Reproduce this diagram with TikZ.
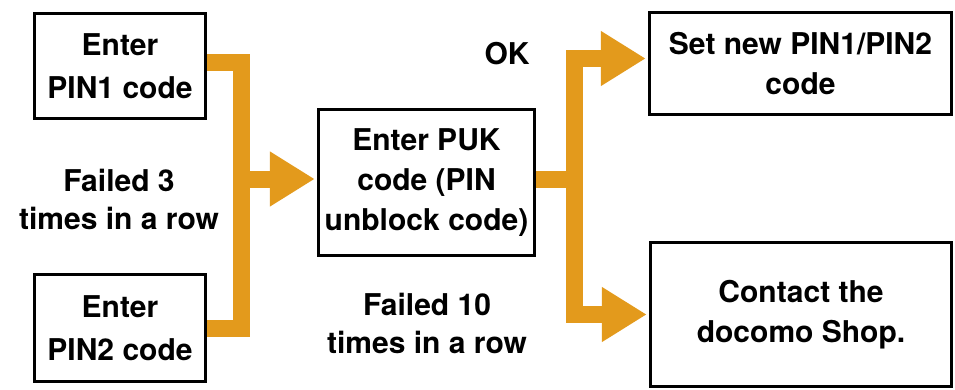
\documentclass[tikz,border=0pt]{standalone}
\usepackage{fontspec}
\setmainfont{TeX Gyre Heros}
\usepackage{tikz}
\usetikzlibrary{arrows.meta, positioning}
\usepackage{xcolor}
\definecolor{flowor}{RGB}{227,154,28}

\begin{document}
\begin{tikzpicture}[x=1pt, y=-1pt,
  box/.style={draw, line width=3.5pt, fill=white, align=center, inner sep=0pt,
    font=\bfseries\fontsize{30}{40}\selectfont},
  lbl/.style={align=center, font=\bfseries\fontsize{30}{38}\selectfont},
  flow/.style={flowor, line width=17pt},
  flowarr/.style={flow, -{Triangle[length=45pt, width=52pt]}, shorten >=2pt}]
  \useasboundingbox (0,0) rectangle (955,389);
  % Boxes
  \node[box, minimum width=171pt, minimum height=105pt, font=\bfseries\fontsize{30}{43}\selectfont] (pin1) at (120,66) {Enter\\PIN1 code};
  \node[box, minimum width=171pt, minimum height=107pt, font=\bfseries\fontsize{30}{43}\selectfont] (pin2) at (120,328) {Enter\\PIN2 code};
  \node[box, minimum width=216pt, minimum height=146pt] (puk) at (426.5,182.5) {Enter PUK\\code (PIN\\unblock code)};
  \node[box, minimum width=302pt, minimum height=102pt] (setnew) at (800.5,63.5) {Set new PIN1/PIN2\\code};
  \node[box, minimum width=301pt, minimum height=144pt] (contact) at (801,314.5) {Contact the\\docomo Shop.};
  % Junctions
  \coordinate (jl) at (241.5,179);
  \coordinate (jr) at (574.5,179);
  % Left branch: PIN1 / PIN2 to PUK
  \draw[flow] ([yshift=4pt]pin1.east) -| (jl) |- (pin2.east);
  \draw[flowarr] (jl) -- (jl -| puk.west);
  % Right branch: OK / failed
  \draw[flow] (puk.east |- jr) -- (jr);
  \draw[flowarr] (jr) |- ([yshift=5pt]setnew.west);
  \draw[flowarr] (jr) |- (contact.west);
  % Labels
  \node[lbl] (f3) at (119,199) {Failed 3\\times in a row};
  \node[lbl] (ok) at (507,54) {OK};
  \node[lbl] (f10) at (427,323) {Failed 10\\times in a row};
\end{tikzpicture}
\end{document}
